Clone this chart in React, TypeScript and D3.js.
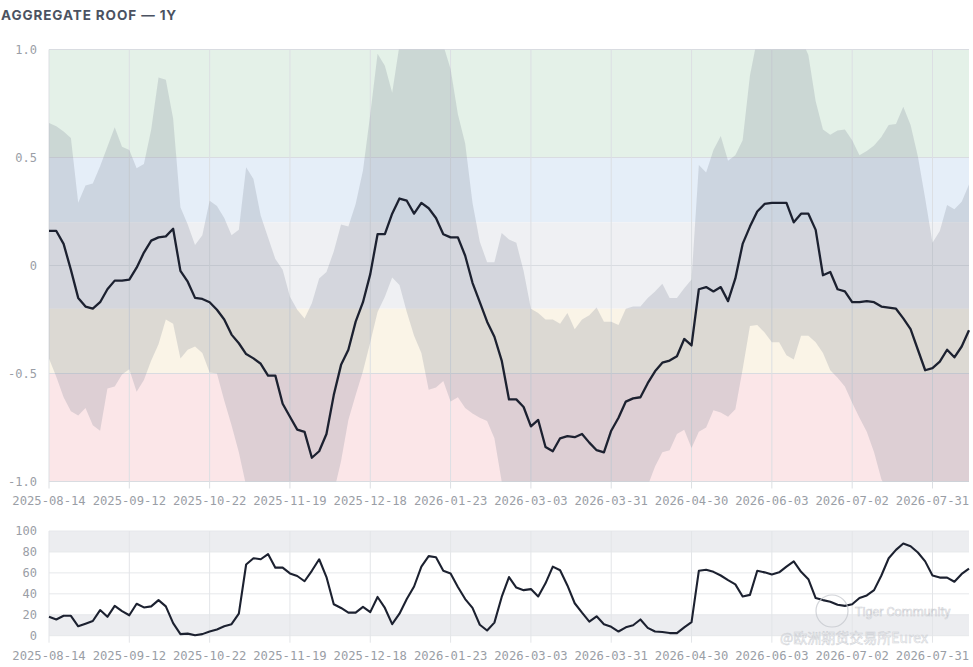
import React from 'react';
import * as d3 from 'd3';

// tick labels sit every TICK_STEP trading-day samples
const tickLabels = [
  '2025-08-14', '2025-09-12', '2025-10-22', '2025-11-19', '2025-12-18', '2026-01-23',
  '2026-03-03', '2026-03-31', '2026-04-30', '2026-06-03', '2026-07-02', '2026-07-31',
];
const TICK_STEP = 11;

// aggregate roof score
const roof = [
  0.16, 0.16, 0.10, -0.02, -0.15, -0.19, -0.20, -0.17, -0.11, -0.07,
  -0.07, -0.065, -0.01, 0.06, 0.115, 0.13, 0.135, 0.17, -0.025, -0.075,
  -0.15, -0.155, -0.17, -0.205, -0.25, -0.32, -0.36, -0.41, -0.43, -0.455,
  -0.51, -0.51, -0.64, -0.70, -0.76, -0.77, -0.89, -0.86, -0.78, -0.60,
  -0.46, -0.39, -0.26, -0.17, -0.04, 0.145, 0.145, 0.24, 0.31, 0.30,
  0.24, 0.29, 0.265, 0.22, 0.145, 0.13, 0.13, 0.045, -0.08, -0.17,
  -0.26, -0.33, -0.44, -0.62, -0.62, -0.655, -0.745, -0.715, -0.84, -0.86,
  -0.80, -0.79, -0.795, -0.78, -0.82, -0.855, -0.865, -0.765, -0.705, -0.63,
  -0.615, -0.61, -0.545, -0.49, -0.45, -0.44, -0.42, -0.34, -0.37, -0.11,
  -0.10, -0.12, -0.10, -0.165, -0.06, 0.10, 0.18, 0.25, 0.285, 0.29,
  0.29, 0.29, 0.20, 0.24, 0.24, 0.165, -0.045, -0.03, -0.11, -0.12,
  -0.17, -0.17, -0.165, -0.17, -0.19, -0.195, -0.20, -0.245, -0.295, -0.39,
  -0.485, -0.475, -0.445, -0.39, -0.425, -0.375, -0.30,
];

// dispersion envelope around the roof
const bandHigh = [
  0.66, 0.645, 0.62, 0.59, 0.29, 0.37, 0.38, 0.46, 0.55, 0.64,
  0.55, 0.535, 0.45, 0.47, 0.63, 0.87, 0.86, 0.68, 0.27, 0.19,
  0.095, 0.14, 0.30, 0.275, 0.22, 0.14, 0.165, 0.455, 0.40, 0.23,
  0.13, 0.03, -0.02, -0.145, -0.205, -0.245, -0.175, -0.06, -0.03, 0.065,
  0.19, 0.18, 0.285, 0.44, 0.70, 0.98, 0.925, 0.80, 1.02, 1.10,
  1.15, 1.15, 1.12, 1.08, 1.02, 0.91, 0.70, 0.565, 0.29, 0.11,
  0.015, 0.015, 0.15, 0.12, 0.105, -0.025, -0.20, -0.22, -0.25, -0.25,
  -0.27, -0.22, -0.295, -0.25, -0.23, -0.195, -0.26, -0.26, -0.275, -0.20,
  -0.19, -0.19, -0.15, -0.12, -0.085, -0.15, -0.15, -0.105, -0.065, 0.465,
  0.43, 0.535, 0.60, 0.485, 0.51, 0.58, 0.88, 1.05, 1.12, 1.15,
  1.15, 1.12, 1.10, 1.05, 0.975, 0.76, 0.63, 0.605, 0.625, 0.63,
  0.58, 0.51, 0.53, 0.555, 0.595, 0.65, 0.655, 0.735, 0.65, 0.505,
  0.31, 0.105, 0.16, 0.28, 0.26, 0.295, 0.375,
];

const bandLow = [
  -0.43, -0.515, -0.61, -0.675, -0.695, -0.66, -0.74, -0.765, -0.57, -0.56,
  -0.505, -0.48, -0.585, -0.53, -0.44, -0.365, -0.25, -0.27, -0.43, -0.39,
  -0.375, -0.405, -0.495, -0.50, -0.625, -0.74, -0.865, -1.02, -1.10, -1.15,
  -1.18, -1.20, -1.22, -1.25, -1.25, -1.22, -1.20, -1.16, -1.12, -1.05,
  -0.905, -0.715, -0.60, -0.49, -0.355, -0.215, -0.145, -0.055, -0.09, -0.215,
  -0.325, -0.405, -0.575, -0.565, -0.535, -0.63, -0.61, -0.66, -0.685, -0.705,
  -0.72, -0.80, -1.0, -1.08, -1.12, -1.15, -1.18, -1.2, -1.22, -1.24,
  -1.25, -1.25, -1.24, -1.22, -1.2, -1.18, -1.16, -1.14, -1.12, -1.1,
  -1.08, -1.06, -1.02, -0.93, -0.865, -0.855, -0.78, -0.76, -0.845, -0.77,
  -0.75, -0.67, -0.68, -0.70, -0.665, -0.48, -0.28, -0.275, -0.31, -0.355,
  -0.355, -0.415, -0.435, -0.325, -0.325, -0.355, -0.405, -0.485, -0.52, -0.56,
  -0.635, -0.705, -0.77, -0.865, -0.99, -1.05, -1.1, -1.14, -1.17, -1.2,
  -1.22, -1.23, -1.22, -1.2, -1.18, -1.16, -1.14,
];

// breadth oscillator (0-100)
const breadth = [
  18, 15.5, 19, 19, 9, 11.5, 14, 24.5, 18, 28.5,
  23.5, 19.5, 30.5, 27, 28, 34, 28, 12, 1.5, 2,
  0.5, 1.5, 4, 6, 9, 11, 21, 68, 74, 73,
  78, 65, 65, 59.5, 57, 52, 62, 73, 56, 30,
  26.5, 22, 22, 27.5, 22.5, 37, 26.5, 11, 21, 35,
  47, 66, 76, 75, 62, 59.5, 46.5, 35, 26.5, 10.5,
  5, 12.5, 37, 56, 46, 43.5, 44.5, 37.5, 50, 66,
  62.5, 48, 31, 22, 13.5, 18.5, 11, 8.5, 4, 8,
  10, 15.5, 7.5, 4, 3.5, 2.5, 2.5, 8, 13, 62,
  63, 61, 57.5, 53, 49, 37.5, 39, 62, 60.5, 58.5,
  60.5, 66, 71, 61, 54, 36, 34, 32.5, 29.5, 28.5,
  30, 36, 38.5, 43.5, 57.5, 74, 82, 88, 85.5, 79.5,
  71, 57.5, 55.5, 55.5, 51.5, 59, 64,
];

// regime zones of the roof score: [from, to]
const zoneBounds: [number, number][] = [
  [0.5, 1.0], [0.2, 0.5], [-0.2, 0.2], [-0.5, -0.2], [-1.0, -0.5],
];
const roofTicks = [1.0, 0.5, 0, -0.5, -1.0];
const breadthTicks = [100, 80, 60, 40, 20, 0];
const breadthShade: [number, number][] = [[80, 100], [0, 20]];

const zoneColors = ['#e4f1e8', '#e5eef8', '#eff0f3', '#faf4e7', '#fbe6e8'];
const mono = '"DejaVu Sans Mono", monospace';
const tickColor = '#9a9ea6';

const App: React.FC = () => {
  const W = 973;
  const H = 667;
  const left = 49;
  const right = 969;

  const x = d3.scaleLinear().domain([0, roof.length - 1]).range([left, right]);
  const y = d3.scaleLinear().domain([-1, 1]).range([481.5, 49.5]);
  const yb = d3.scaleLinear().domain([0, 100]).range([635.7, 531]);

  const tickIdx = tickLabels.map((_, i) => i * TICK_STEP);

  const area = d3.area<number>()
    .x((_, i) => x(i))
    .y0((_, i) => y(bandLow[i]))
    .y1(d => y(d));

  const line = d3.line<number>().x((_, i) => x(i)).y(d => y(d));
  const lineB = d3.line<number>().x((_, i) => x(i)).y(d => yb(d));

  const fmtRoof = (v: number) => (v === 0 ? '0' : v.toFixed(1));

  return (
    <svg width={W} height={H} style={{ position: 'absolute', left: 0, top: 0, background: '#fff' }}>
      <defs>
        <clipPath id="roofClip">
          <rect x={left} y={y(1)} width={right - left} height={y(-1) - y(1)} />
        </clipPath>
      </defs>

      <text x={1} y={20} fontFamily="Inter, 'Noto Sans', sans-serif" fontWeight={700}
        fontSize={13.5} letterSpacing={0.9} fill="#4b5261">
        AGGREGATE ROOF — 1Y
      </text>

      {/* regime zones */}
      {zoneBounds.map(([a, b], i) => (
        <rect key={i} x={left} width={right - left} y={y(b)} height={y(a) - y(b)} fill={zoneColors[i]} />
      ))}

      {/* grid */}
      {roofTicks.map(t => (
        <line key={t} x1={left} x2={right} y1={y(t)} y2={y(t)} stroke="#d9dce1" strokeWidth={1} />
      ))}
      {tickIdx.map(i => (
        <line key={i} x1={x(i)} x2={x(i)} y1={y(1)} y2={y(-1) + 7} stroke="#dcdfe3" strokeWidth={1} />
      ))}

      {/* envelope */}
      <path d={area(bandHigh) || ''} fill="#7d8798" fillOpacity={0.24} clipPath="url(#roofClip)" />
      <path d={line(roof) || ''} fill="none" stroke="#1c2130" strokeWidth={2.3} strokeLinejoin="round" />

      {roofTicks.map(t => (
        <text key={t} x={37} y={y(t)} dy="0.35em" textAnchor="end" fontFamily={mono} fontSize={12} fill={tickColor}>
          {fmtRoof(t)}
        </text>
      ))}
      {tickIdx.map((i, k) => (
        <text key={i} x={x(i)} y={505} textAnchor="middle" fontFamily={mono} fontSize={12.2} fill={tickColor}>
          {tickLabels[k]}
        </text>
      ))}

      {/* breadth panel */}
      {breadthShade.map(([a, b], i) => (
        <rect key={i} x={left} width={right - left} y={yb(b)} height={yb(a) - yb(b)} fill="#ecedf0" />
      ))}
      {breadthTicks.map(t => (
        <line key={t} x1={left} x2={right} y1={yb(t)} y2={yb(t)} stroke="#e6e8eb" strokeWidth={1} />
      ))}
      {tickIdx.map(i => (
        <line key={i} x1={x(i)} x2={x(i)} y1={yb(100)} y2={yb(0) + 7} stroke="#e3e5e8" strokeWidth={1} />
      ))}
      <path d={lineB(breadth) || ''} fill="none" stroke="#1c2130" strokeWidth={2.1} strokeLinejoin="round" />

      {breadthTicks.map(t => (
        <text key={t} x={37} y={yb(t)} dy="0.35em" textAnchor="end" fontFamily={mono} fontSize={12} fill={tickColor}>
          {t}
        </text>
      ))}
      {tickIdx.map((i, k) => (
        <text key={i} x={x(i)} y={660} textAnchor="middle" fontFamily={mono} fontSize={12.2} fill={tickColor}>
          {tickLabels[k]}
        </text>
      ))}

      {/* watermark */}
      <g opacity={0.75}>
        <circle cx={832} cy={611} r={16} fill="none" stroke="#c4c7cd" strokeWidth={1.2} />
        <text x={855} y={616} fontFamily="Roboto, sans-serif" fontSize={12.5} fill="#fff" stroke="#bfc3c9" strokeWidth={0.6}>
          Tiger Community
        </text>
        <text x={780} y={643} fontFamily="'Noto Sans CJK SC', sans-serif" fontSize={14} fill="#fff" stroke="#c4c7cd" strokeWidth={0.6}>
          @欧洲期货交易所Eurex
        </text>
      </g>
    </svg>
  );
};

export default App;
